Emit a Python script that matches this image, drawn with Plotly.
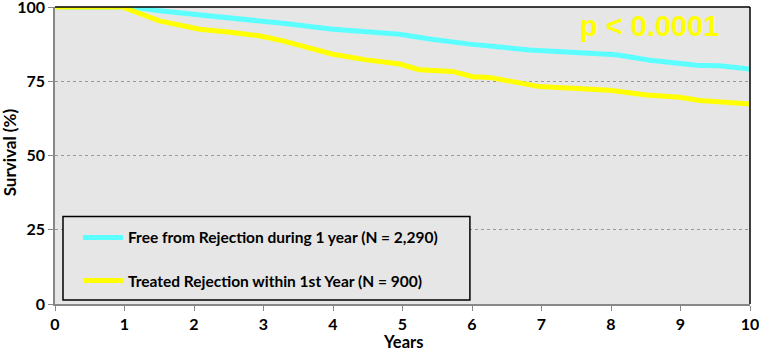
import plotly.graph_objects as go

years_free = [0, 1.1, 1.5, 2.08, 2.8, 3.28, 4.0, 4.96, 5.39, 5.97, 6.83, 7.5, 8.08, 8.56, 9.23, 9.56, 10]
surv_free = [100, 100, 98.7, 97.3, 95.9, 94.5, 92.5, 90.8, 89.2, 87.5, 85.5, 84.8, 83.9, 82.1, 80.4, 80.2, 79.1]

years_treated = [0, 0.97, 1.5, 2.08, 2.56, 2.94, 3.28, 4.0, 4.48, 4.96, 5.24, 5.72, 6.01, 6.25, 6.97, 7.45, 7.98, 8.51, 8.99, 9.28, 10]
surv_treated = [100, 100, 95.3, 92.5, 91.4, 90.3, 88.6, 84.1, 82.2, 80.8, 78.9, 78.3, 76.5, 76.3, 73.2, 72.6, 72.0, 70.4, 69.6, 68.5, 67.3]

name_free = "Free from Rejection during 1 year (N = 2,290)"
name_treated = "Treated Rejection within 1st Year (N = 900)"
x_ticks = [0, 1, 2, 3, 4, 5, 6, 7, 8, 9, 10]
y_ticks = [0, 25, 50, 75, 100]

FONT = "Lato"

fig = go.Figure()
fig.add_trace(go.Scatter(x=years_free, y=surv_free, mode="lines", name=name_free,
                         line=dict(color="#5cffff", width=5), legendgroup="a"))
fig.add_trace(go.Scatter(x=years_treated, y=surv_treated, mode="lines", name=name_treated,
                         line=dict(color="#ffff00", width=5), legendgroup="b"))

fig.update_layout(
    width=759, height=351,
    margin=dict(l=55, r=9, t=7, b=47, autoexpand=False),
    paper_bgcolor="white",
    plot_bgcolor="#e6e6e6",
    font=dict(family=FONT, size=16, color="black", weight="bold"),
    showlegend=True,
    legend=dict(x=0.033, y=0.28, xanchor="left", yanchor="top",
                bgcolor="rgba(0,0,0,0)", borderwidth=0,
                font=dict(family=FONT, size=15.5, color="black", weight="bold"),
                tracegroupgap=20, itemwidth=40),
    xaxis=dict(range=[0, 10], tickvals=x_ticks, showgrid=False, zeroline=False,
               showline=True, linecolor="#888888", linewidth=1.5,
               ticks="outside", ticklen=5, tickcolor="#888888",
               ticklabeloverflow="allow", automargin=False,
               tickfont=dict(size=16, family=FONT, weight="bold")),
    yaxis=dict(range=[0, 100], tickvals=y_ticks, showgrid=True, gridcolor="#999999",
               griddash="dot", gridwidth=1, zeroline=False,
               showline=True, linecolor="#888888", linewidth=1.5,
               ticks="outside", ticklen=5, tickcolor="#888888",
               ticklabeloverflow="allow", automargin=False,
               tickfont=dict(size=16, family=FONT, weight="bold")),
    shapes=[
        dict(type="rect", xref="paper", yref="paper", x0=0.0115, x1=0.597, y0=0.0134, y1=0.295,
             fillcolor="#e6e6e6", line=dict(color="black", width=1.5), layer="above"),
        dict(type="line", xref="paper", yref="paper", x0=0, x1=1, y0=1, y1=1,
             line=dict(color="black", width=1.5)),
        dict(type="line", xref="paper", yref="paper", x0=1, x1=1, y0=0, y1=1,
             line=dict(color="black", width=1.5)),
    ],
    annotations=[
        dict(text="p < 0.0001", x=0.958, y=0.936, xref="paper", yref="paper",
             xanchor="right", yanchor="middle", showarrow=False,
             font=dict(family="Liberation Sans", size=29, color="#ffff00", weight="bold")),
        dict(text="Years", x=0.5, y=-0.129, xref="paper", yref="paper",
             xanchor="center", yanchor="middle", showarrow=False,
             font=dict(family=FONT, size=16.5, color="black", weight="bold")),
        dict(text="Survival (%)", x=-0.065, y=0.51, xref="paper", yref="paper",
             xanchor="center", yanchor="middle", showarrow=False, textangle=-90,
             font=dict(family=FONT, size=17, color="black", weight="bold")),
    ],
)

fig.write_html("out.html", config={"displayModeBar": False},
               post_script="document.body.style.margin='0';")
